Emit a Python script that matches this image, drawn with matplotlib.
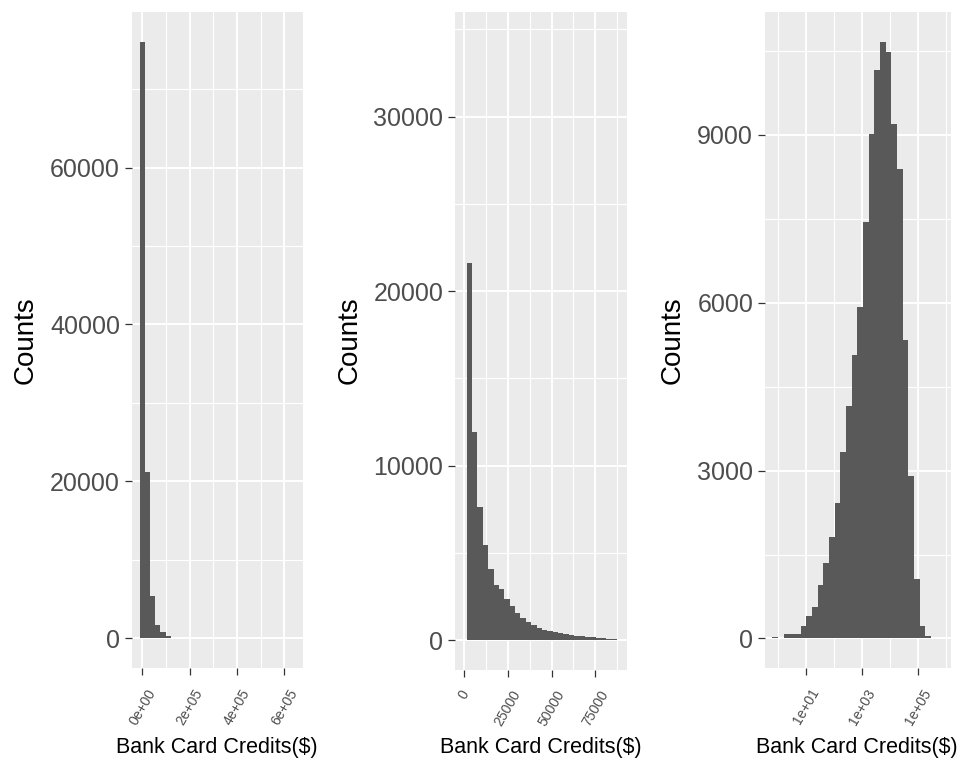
import matplotlib.pyplot as plt
import numpy as np
from matplotlib.ticker import FixedLocator

plt.rcParams['font.family'] = ['Liberation Sans', 'DejaVu Sans']

# --- data --------------------------------------------------------------
# left panel: raw credits, 30 bins centred on 0, w, 2w, ...
p1_bin_width = 21950
p1_counts = [76050, 21150, 5440, 1745, 815, 255, 120, 60, 30, 20,
             12, 8, 5, 4, 3, 2, 2, 1, 1, 1, 1, 0, 1, 0, 0, 1, 0, 0, 0, 1]
p1_xticks = [0, 200000, 400000, 600000]
p1_xlabels = ["0e+00", "2e+05", "4e+05", "6e+05"]
p1_yticks = [0, 20000, 40000, 60000]

# middle panel: credits limited to < 90000 (first bin dropped by the limits)
p2_bin_width = 3069
p2_counts = [21640, 11900, 7650, 5450, 4080, 3180, 2900, 2350, 1950, 1560,
             1250, 1040, 870, 720, 600, 530, 460, 400, 350, 300,
             260, 220, 180, 150, 120, 100, 90, 80]
p2_hidden_max = 34300  # bar outside the x limits still sets the y range
p2_xticks = [0, 25000, 50000, 75000]
p2_xlabels = ["0", "25000", "50000", "75000"]
p2_yticks = [0, 10000, 20000, 30000]

# right panel: log10 scale, bins in log10 units
p3_log_start = -0.21
p3_log_width = 0.203
p3_counts = [30, 0, 75, 80, 85, 220, 400, 560, 950, 1350,
             1810, 2430, 3330, 4160, 5070, 5930, 7450, 9020, 10160, 10670,
             10490, 9190, 8390, 5330, 2900, 1055, 220, 40]
p3_xticks = [1e1, 1e3, 1e5]
p3_xminor = [1e0, 1e2, 1e4, 1e6]
p3_xlabels = ["1e+01", "1e+03", "1e+05"]
p3_yticks = [0, 3000, 6000, 9000]

W, H = 961, 759
BAR = "#595959"
PANEL = "#EBEBEB"

fig = plt.figure(figsize=(W / 100, H / 100), dpi=100)


def add_panel(x0, x1, y0, y1):
    # place an axes using pixel edges of the reference
    return fig.add_axes([x0 / W, 1 - y1 / H, (x1 - x0) / W, (y1 - y0) / H])


def style(ax, yticks, xticks, xlabels):
    ax.set_facecolor(PANEL)
    for s in ax.spines.values():
        s.set_visible(False)
    ax.set_axisbelow(True)
    ax.set_yticks(yticks)
    ax.set_yticklabels([str(v) for v in yticks])
    ax.yaxis.set_minor_locator(FixedLocator([v + (yticks[1] - yticks[0]) / 2 for v in yticks]))
    ax.set_xticks(xticks)
    ax.set_xticklabels(xlabels, rotation=60, ha="center")
    ax.grid(which="major", color="white", lw=1.4)
    ax.grid(which="minor", color="white", lw=0.8)
    ax.tick_params(which="major", length=5, width=0.9, color="#333333",
                   labelcolor="#4D4D4D", pad=3.5)
    ax.tick_params(which="minor", length=0)
    ax.tick_params(axis="y", labelsize=18)
    ax.tick_params(axis="x", labelsize=10, pad=8)


# left panel
ax1 = add_panel(131.7, 303, 11.7, 668.3)
c1 = np.arange(len(p1_counts)) * p1_bin_width
ax1.bar(c1, p1_counts, width=p1_bin_width, color=BAR, lw=0)
style(ax1, p1_yticks, p1_xticks, p1_xlabels)
ax1.xaxis.set_minor_locator(FixedLocator([-100000, 100000, 300000, 500000, 700000]))
ax1.set_xlim(-44820, 679500)
ax1.set_ylim(-0.05 * max(p1_counts), 1.05 * max(p1_counts))

# middle panel
ax2 = add_panel(455, 627.3, 11.7, 670)
c2 = np.arange(1, len(p2_counts) + 1) * p2_bin_width
ax2.bar(c2, p2_counts, width=p2_bin_width, color=BAR, lw=0)
style(ax2, p2_yticks, p2_xticks, p2_xlabels)
ax2.xaxis.set_minor_locator(FixedLocator([-12500, 12500, 37500, 62500, 87500]))
ax2.set_xlim(-5140, 93210)
ax2.set_ylim(-0.05 * p2_hidden_max, 1.05 * p2_hidden_max)

# right panel
ax3 = add_panel(765, 950.7, 11.7, 668.3)
ax3.set_xscale("log")
e3 = p3_log_start + np.arange(len(p3_counts) + 1) * p3_log_width
left3 = 10 ** e3[:-1]
ax3.bar(left3, p3_counts, width=10 ** e3[1:] - left3, align="edge", color=BAR, lw=0)
style(ax3, p3_yticks, p3_xticks, p3_xlabels)
ax3.xaxis.set_minor_locator(FixedLocator(p3_xminor))
ax3.xaxis.set_minor_formatter(plt.NullFormatter())
ax3.set_xlim(10 ** -0.475, 10 ** 6.18)
ax3.set_ylim(-0.05 * max(p3_counts), 1.05 * max(p3_counts))

# axis titles
for cx, ylab_x in [(217, 26), (541, 350), (857, 673)]:
    fig.text(cx / W, 1 - 747 / H, "Bank Card Credits($)", ha="center", va="center",
             fontsize=15.5, color="black")
    fig.text(ylab_x / W, 1 - 340 / H, "Counts", ha="center", va="center",
             rotation=90, fontsize=20, color="black")

fig.savefig("out.png", dpi=100, facecolor="white")
